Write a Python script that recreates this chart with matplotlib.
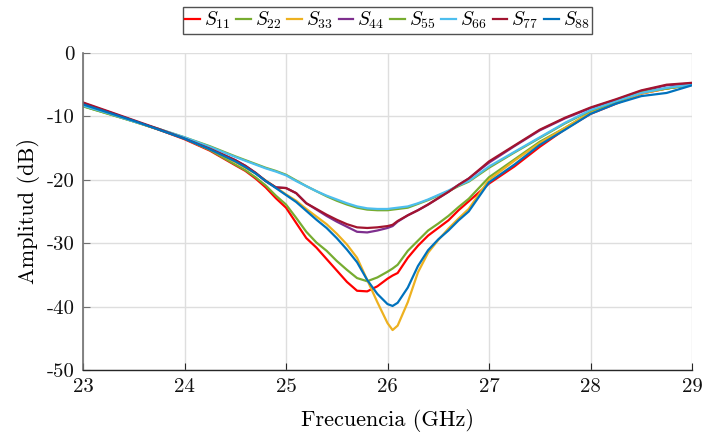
import matplotlib
matplotlib.use("Agg")
import matplotlib.pyplot as plt

plt.rcParams["font.family"] = "cmr10"
plt.rcParams["mathtext.fontset"] = "cm"
plt.rcParams["axes.unicode_minus"] = False
plt.rcParams["axes.formatter.use_mathtext"] = False

# Frequency samples (GHz)
freq = [23.0, 23.25, 23.5, 23.75, 24.0, 24.25, 24.5, 24.6, 24.7, 24.8, 24.9,
        25.0, 25.1, 25.2, 25.3, 25.4, 25.5, 25.6, 25.7, 25.8, 25.9, 26.0,
        26.05, 26.1, 26.2, 26.3, 26.4, 26.5, 26.6, 26.7, 26.8, 27.0, 27.25,
        27.5, 27.75, 28.0, 28.25, 28.5, 28.75, 29.0]

# Reflection coefficients (dB)
s11 = [-7.9, -9.3, -10.7, -12.1, -13.6, -15.4, -17.7, -18.6, -19.8, -21.2, -22.9,
       -24.4, -26.8, -29.2, -30.7, -32.5, -34.3, -36.1, -37.5, -37.6, -36.8, -35.6,
       -35.1, -34.7, -32.3, -30.4, -28.8, -27.6, -26.4, -24.8, -23.4, -20.6, -17.9,
       -14.8, -12.0, -9.6, -8.0, -6.4, -5.6, -5.0]
s22 = [-8.4, -9.6, -10.8, -12.1, -13.5, -15.3, -17.6, -18.5, -19.6, -20.9, -22.5,
       -23.9, -26.0, -28.2, -29.9, -31.2, -32.8, -34.2, -35.5, -36.0, -35.4, -34.5,
       -34.0, -33.4, -31.2, -29.6, -28.0, -26.9, -25.7, -24.3, -23.0, -19.6, -16.8,
       -14.0, -11.8, -9.4, -7.9, -6.2, -5.6, -5.0]
s33 = [-8.2, -9.5, -10.8, -12.1, -13.5, -15.2, -17.2, -18.1, -19.0, -20.1, -21.2,
       -22.3, -23.3, -24.6, -25.8, -27.0, -28.5, -30.2, -32.3, -35.8, -39.3, -42.6,
       -43.7, -43.0, -39.3, -34.6, -31.5, -29.5, -27.7, -26.1, -24.6, -20.0, -17.0,
       -14.2, -11.8, -9.4, -7.9, -6.4, -5.6, -5.0]
s44 = [-8.0, -9.3, -10.7, -12.1, -13.5, -15.1, -16.9, -17.8, -18.9, -20.2, -21.2,
       -21.3, -22.1, -23.7, -24.7, -25.7, -26.6, -27.4, -28.2, -28.3, -28.0, -27.6,
       -27.3, -26.6, -25.6, -24.8, -23.9, -22.9, -21.9, -20.8, -19.8, -17.3, -14.7,
       -12.2, -10.3, -8.7, -7.4, -6.0, -5.1, -4.8]
s55 = [-8.4, -9.6, -10.8, -12.0, -13.3, -14.7, -16.3, -16.9, -17.5, -18.1, -18.6,
       -19.2, -20.1, -21.0, -21.8, -22.6, -23.3, -23.9, -24.4, -24.7, -24.8, -24.8,
       -24.7, -24.6, -24.4, -23.8, -23.2, -22.5, -21.8, -21.0, -20.3, -18.1, -15.7,
       -13.4, -11.1, -9.1, -7.7, -6.2, -5.6, -5.0]
s66 = [-8.3, -9.5, -10.8, -12.0, -13.3, -14.8, -16.4, -17.0, -17.6, -18.2, -18.7,
       -19.3, -20.2, -21.0, -21.8, -22.5, -23.1, -23.7, -24.2, -24.5, -24.6, -24.6,
       -24.5, -24.4, -24.2, -23.7, -23.1, -22.4, -21.7, -20.9, -20.2, -17.9, -15.6,
       -13.3, -11.0, -9.0, -7.6, -6.3, -5.5, -5.0]
s77 = [-7.8, -9.2, -10.6, -12.0, -13.5, -15.1, -16.9, -17.8, -18.9, -20.2, -21.2,
       -21.3, -22.1, -23.7, -24.6, -25.5, -26.3, -27.0, -27.5, -27.6, -27.5, -27.3,
       -27.1, -26.5, -25.6, -24.8, -23.9, -22.9, -21.9, -20.8, -19.8, -17.1, -14.6,
       -12.1, -10.2, -8.6, -7.3, -5.9, -5.0, -4.7]
s88 = [-8.1, -9.4, -10.7, -12.1, -13.5, -15.2, -17.1, -18.0, -19.0, -20.2, -21.3,
       -22.4, -23.5, -24.9, -26.3, -27.6, -29.2, -31.0, -33.0, -35.8, -38.0, -39.6,
       -39.9, -39.4, -37.0, -33.6, -31.1, -29.4, -28.0, -26.4, -25.0, -20.4, -17.6,
       -14.5, -12.1, -9.6, -8.0, -6.8, -6.3, -5.1]

series = [s11, s22, s33, s44, s55, s66, s77, s88]
labels = [r"$S_{11}$", r"$S_{22}$", r"$S_{33}$", r"$S_{44}$",
          r"$S_{55}$", r"$S_{66}$", r"$S_{77}$", r"$S_{88}$"]
colors = ["#FF0000", "#77AC30", "#EDB120", "#7E2F8E",
          "#77AC30", "#4DBEEE", "#A2142F", "#0072BD"]

xticks = [23, 24, 25, 26, 27, 28, 29]
yticks = [0, -10, -20, -30, -40, -50]

fig = plt.figure(figsize=(7.04, 4.40), dpi=100)
ax = fig.add_axes([83 / 704, 1 - 370 / 440, (692 - 83) / 704, (370 - 53) / 440])

for y, lab, c in zip(series, labels, colors):
    ax.plot(freq, y, color=c, lw=1.6, label=lab)

ax.set_xlim(23, 29)
ax.set_ylim(-50, 0)
ax.set_xticks(xticks)
ax.set_yticks(yticks)
ax.set_xticklabels([str(v) for v in xticks])
ax.set_yticklabels([str(v) for v in yticks])

ax.grid(True, color="#dedede", lw=1.0)
ax.set_axisbelow(True)
for s in ("top", "right"):
    ax.spines[s].set_visible(False)
ax.spines["left"].set_color("#707070")
ax.spines["left"].set_linewidth(1.2)
ax.spines["bottom"].set_color("#262626")
ax.spines["bottom"].set_linewidth(1.0)
ax.tick_params(direction="in", labelsize=15, length=5, pad=6, colors="#262626")
ax.tick_params(axis="y", colors="#707070", labelcolor="#111111")
ax.tick_params(axis="x", labelcolor="#111111")

ax.set_xlabel("Frecuencia (GHz)", fontsize=16, labelpad=9)
ax.set_ylabel("Amplitud (dB)", fontsize=16, labelpad=5)

leg = ax.legend(loc="lower center", bbox_to_anchor=(0.5, 1.06), ncol=8,
                fontsize=14, frameon=True, fancybox=False, handlelength=0.75,
                handletextpad=0.2, columnspacing=0.3, borderpad=0.15,
                borderaxespad=0.0)
leg.get_frame().set_edgecolor("#262626")
leg.get_frame().set_linewidth(1.0)

fig.savefig("out.png", dpi=100)
